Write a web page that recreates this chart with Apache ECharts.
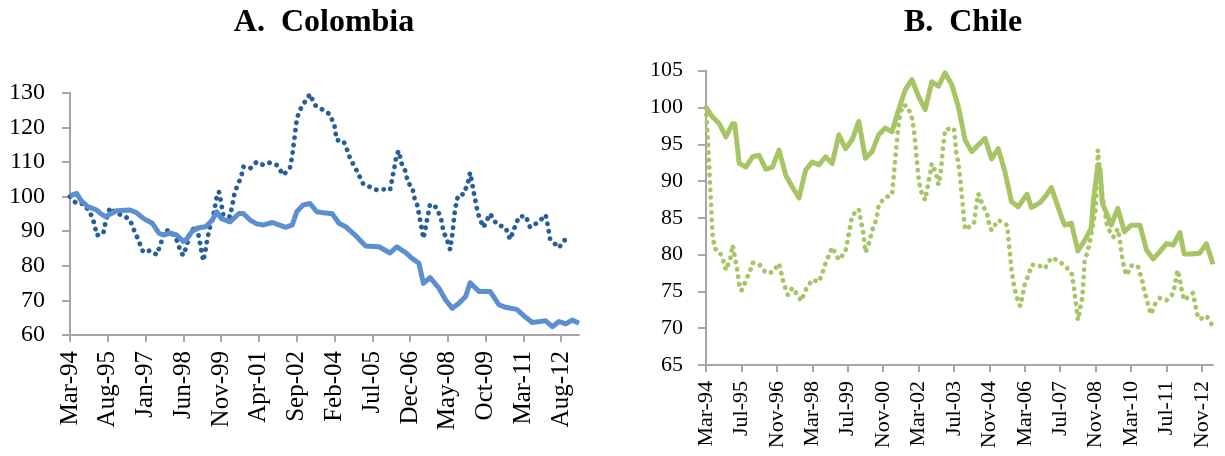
<!DOCTYPE html>
<html>
<head>
<meta charset="utf-8">
<script src="https://cdn.jsdelivr.net/npm/echarts@6/dist/echarts.min.js"></script>
<style>
  html, body { margin: 0; padding: 0; background: #fff; }
  #main { width: 1225px; height: 456px; }
</style>
</head>
<body>
<div id="main"></div>
<script>
// x = months since Mar-94, y = index value
const colTicks = ['Mar-94', 'Aug-95', 'Jan-97', 'Jun-98', 'Nov-99', 'Apr-01', 'Sep-02', 'Feb-04', 'Jul-05', 'Dec-06', 'May-08', 'Oct-09', 'Mar-11', 'Aug-12']
const chileTicks = ['Mar-94', 'Jul-95', 'Nov-96', 'Mar-98', 'Jul-99', 'Nov-00', 'Mar-02', 'Jul-03', 'Nov-04', 'Mar-06', 'Jul-07', 'Nov-08', 'Mar-10', 'Jul-11', 'Nov-12']
const lastMonth = 229

const colSolid = [
  [0, 100.2], [3, 100.9], [5, 98.8], [8, 97.1], [12, 96.1], [14, 95], [16, 94.2], [21, 95.9], [27, 96.1],
  [30, 95.3], [33, 93.7], [37, 92.3], [40, 89.4], [42, 88.9], [45, 89.4], [48, 88.9], [51, 87], [52, 87.3],
  [55, 90], [58, 91], [61, 91.3], [64, 93.2], [66, 95.6], [68, 93.7], [72, 92.7], [76, 95.1], [78, 95.1],
  [81, 93.2], [84, 92.1], [87, 91.8], [91, 92.5], [94, 91.8], [97, 91.1], [100, 91.8], [102, 95.6],
  [105, 97.6], [108, 98], [111, 95.6], [114, 95.3], [118, 95], [121, 92.3], [124, 91.3], [129, 88.4],
  [133, 85.7], [139, 85.5], [144, 83.7], [147, 85.5], [151, 83.8], [154, 82.1], [157, 80.7], [159, 74.9],
  [162, 76.6], [166, 73.5], [169, 70.1], [172, 67.7], [175, 69.2], [178, 71.1], [180, 75.1], [184, 72.6],
  [189, 72.6], [193, 68.7], [196, 68], [201, 67.4], [205, 65.1], [208, 63.6], [214, 64.1], [217, 62.4],
  [220, 63.9], [223, 63.2], [226, 64.3], [229, 63.4]
]
const colDotted = [
  [0, 100], [3, 97.9], [6, 97.9], [9, 95.5], [11, 92.1], [12, 88.8], [15, 89.3], [16, 92.7], [18, 96.8],
  [21, 95], [24, 94.6], [27, 93.2], [29, 90], [30, 88.6], [32, 85.4], [33, 83.9], [36, 84.4], [39, 83.2],
  [41, 86.6], [42, 90], [45, 90.3], [48, 87.4], [50, 83.8], [51, 83], [53, 86.9], [54, 89.6], [57, 91.6],
  [58, 88.2], [59, 84.7], [60, 81.4], [61, 84.7], [62, 88.5], [63, 91.3], [64, 93], [65, 96.3], [66, 99.8],
  [67, 101.4], [68, 98.2], [69, 94.5], [72, 94.2], [73, 97.5], [74, 100.9], [75, 102.6], [77, 105.7],
  [78, 108.6], [81, 108.1], [84, 110], [87, 109.1], [90, 109.8], [93, 109.1], [96, 106.2], [99, 108.4],
  [100, 111.8], [101, 116.9], [102, 122.1], [103, 124.5], [105, 126.7], [108, 129.6], [110, 126.6],
  [111, 126], [114, 125], [117, 123.7], [119, 120.4], [120, 116.3], [123, 116.1], [125, 113], [126, 111],
  [129, 107.5], [132, 103.5], [135, 102.8], [138, 101.9], [141, 102.1], [144, 101.9], [145, 105.3],
  [146, 108.6], [147, 112.3], [148, 113.2], [149, 109.8], [151, 107.2], [152, 104], [154, 102.7],
  [155, 99.5], [156, 98.2], [157, 94.9], [158, 91.5], [159, 87.9], [160, 91.1], [161, 94.5], [162, 97.8],
  [165, 96.8], [167, 93.4], [168, 90], [170, 86.8], [171, 84.7], [172, 89], [173, 95], [174, 99],
  [175, 100.6], [177, 100.6], [179, 103.8], [180, 106.9], [181, 103.5], [182, 100], [183, 96.8],
  [184, 94.2], [186, 91.1], [189, 95], [192, 92], [196, 91], [198, 87.6], [200, 91], [202, 94.2],
  [205, 94.4], [207, 91.1], [211, 92.7], [214, 94.7], [215, 91.5], [216, 87.7], [220, 85.2], [222, 87.2],
  [225, 88.1]
]
const chileSolid = [
  [0, 100], [3, 98.7], [6, 97.8], [9, 96], [12, 97.8], [13, 97.8], [15, 92.4], [18, 91.9], [21, 93.3],
  [24, 93.5], [27, 91.6], [30, 91.9], [33, 94.2], [36, 90.8], [39, 89.2], [42, 87.7], [45, 91.5],
  [48, 92.6], [51, 92.2], [54, 93.3], [57, 92.4], [60, 96.3], [63, 94.4], [66, 95.6], [69, 98.1],
  [72, 93.1], [75, 94], [78, 96.3], [81, 97.2], [84, 96.7], [87, 99.7], [90, 102.4], [93, 103.8],
  [96, 101.5], [99, 99.7], [102, 103.5], [105, 102.9], [108, 104.7], [111, 103.1], [114, 100.1],
  [117, 95.6], [120, 94], [123, 94.9], [126, 95.8], [129, 93], [132, 94.4], [135, 91.3], [138, 87.2],
  [141, 86.5], [145, 88.2], [147, 86.4], [151, 87.1], [154, 88.2], [156, 89.1], [160, 85.6], [162, 84],
  [165, 84.3], [168, 80.5], [171, 81.9], [174, 83.6], [175, 87.4], [177, 92.2], [178, 91.5], [179, 87],
  [181, 85.6], [183, 84], [186, 86.3], [189, 83.1], [192, 84], [196, 84], [199, 80.6], [202, 79.4],
  [205, 80.4], [208, 81.5], [211, 81.3], [214, 83], [216, 80.1], [219, 80.1], [223, 80.2], [226, 81.5],
  [229, 78.7]
]
const chileDotted = [
  [0, 100], [1, 94.5], [2, 88.5], [3, 82.5], [4, 80.8], [6, 80.5], [8, 79], [9, 77.9], [11, 79.5],
  [12, 81.3], [13, 79.7], [14, 78.1], [15, 76], [16, 75.1], [18, 76.5], [20, 77.9], [21, 78.9],
  [24, 78.7], [27, 77.5], [30, 77.6], [33, 78.8], [35, 76.2], [37, 74.5], [39, 75.5], [42, 74.2],
  [43, 73.7], [45, 75.2], [48, 76.6], [51, 76.3], [53, 77.9], [54, 78.8], [56, 80.3], [57, 81],
  [60, 79.3], [63, 80.4], [64, 82], [65, 83.6], [66, 85.3], [69, 86.2], [70, 84.6], [71, 83], [72, 80.3],
  [74, 81.9], [75, 83.3], [77, 84.8], [78, 86.8], [81, 87.8], [84, 88.1], [85, 91.4], [86, 94.7],
  [87, 97.9], [88, 99.4], [89, 100.3], [91, 100.2], [93, 98.6], [94, 96.8], [95, 93.6], [96, 90.4],
  [97, 88.7], [99, 87.4], [100, 89.1], [101, 90.6], [102, 92.4], [104, 91], [105, 89.5], [106, 91.1],
  [107, 94.4], [108, 97], [112, 97.2], [113, 94], [114, 92.4], [115, 89.8], [116, 86.6], [117, 83.4],
  [121, 84.2], [122, 86.5], [123, 88.3], [125, 86.7], [127, 85.5], [128, 84], [129, 83.3], [132, 84.7],
  [136, 84], [137, 81], [138, 78], [139, 76], [140, 74.5], [142, 73], [143, 74.5], [144, 76], [146, 77.5],
  [147, 78.6], [150, 78.6], [153, 78.1], [156, 79.6], [159, 79.2], [162, 78.5], [165, 77.6], [166, 76],
  [167, 73.5], [168, 71.1], [169, 72.7], [170, 74.2], [171, 79], [173, 81.2], [174, 82.7], [175, 84.5],
  [176, 86.2], [177, 94.2], [178, 91], [179, 88], [180, 86.3], [181, 84.2], [183, 82.7], [184, 82.4],
  [186, 83.5], [187, 81.9], [188, 79.5], [189, 78], [190, 77.2], [192, 78.5], [195, 78.5], [197, 76.5],
  [198, 75], [199, 74], [200, 72.8], [201, 71.9], [203, 73.4], [205, 74.1], [208, 73.8], [211, 74.7],
  [212, 76.2], [213, 77.9], [214, 76.6], [215, 75], [216, 73.8], [220, 74.8], [221, 73.2], [222, 71.7],
  [223, 71.2], [226, 71.7], [229, 70.2]
]

const font = 'Liberation Serif, Times New Roman, serif'
const axisGray = '#a6a6a6'

function xAxis(gridIndex, ticks, step, size) {
  const vals = ticks.map((_, i) => i * step)
  return {
    type: 'value', gridIndex, min: 0, max: lastMonth, interval: step,
    splitLine: { show: false },
    axisLine: { lineStyle: { color: axisGray, width: 2 } },
    axisTick: { customValues: vals, length: 7, lineStyle: { color: axisGray, width: 2 } },
    axisLabel: {
      customValues: vals, rotate: 90, margin: 16, color: '#000', fontFamily: font, fontSize: size,
      formatter: v => ticks[Math.round(v / step)] || ''
    }
  }
}
function yAxis(gridIndex, min, max, step, size, margin) {
  return {
    type: 'value', gridIndex, min, max, interval: step,
    splitLine: { show: false },
    axisLine: { show: true, lineStyle: { color: axisGray, width: 2 } },
    axisTick: { show: true, length: 8, lineStyle: { color: axisGray, width: 2 } },
    axisLabel: { color: '#000', fontFamily: font, fontSize: size, margin }
  }
}
function line(idx, data, color, dotted) {
  return {
    type: 'line', xAxisIndex: idx, yAxisIndex: idx, data, symbol: 'none', silent: true,
    lineStyle: dotted
      ? { color, width: 4.8, type: [0.1, 7.4], cap: 'round' }
      : { color, width: 5, join: 'round' },
    z: dotted ? 2 : 3
  }
}

const chart = echarts.init(document.getElementById('main'))
chart.setOption({
  animation: false,
  backgroundColor: '#fff',
  title: [
    { text: 'A.  Colombia', left: 319, top: 2, textAlign: 'center',
      textStyle: { fontFamily: font, fontSize: 32, fontWeight: 'bold', color: '#000' } },
    { text: 'B.  Chile', left: 958, top: 2, textAlign: 'center',
      textStyle: { fontFamily: font, fontSize: 32, fontWeight: 'bold', color: '#000' } }
  ],
  grid: [
    { left: 70, top: 92.7, width: 509, height: 242.3, outerBoundsMode: 'none' },
    { left: 706, top: 70.7, width: 507, height: 294.3, outerBoundsMode: 'none' }
  ],
  xAxis: [xAxis(0, colTicks, 17, 25), xAxis(1, chileTicks, 16, 22)],
  yAxis: [yAxis(0, 60, 130, 10, 24, 25), yAxis(1, 65, 105, 5, 22, 23)],
  series: [
    line(0, colDotted, '#275d98', true),
    line(0, colSolid, '#5b8fd0', false),
    line(1, chileDotted, '#a8c566', true),
    line(1, chileSolid, '#a8c566', false)
  ]
})
</script>
</body>
</html>
